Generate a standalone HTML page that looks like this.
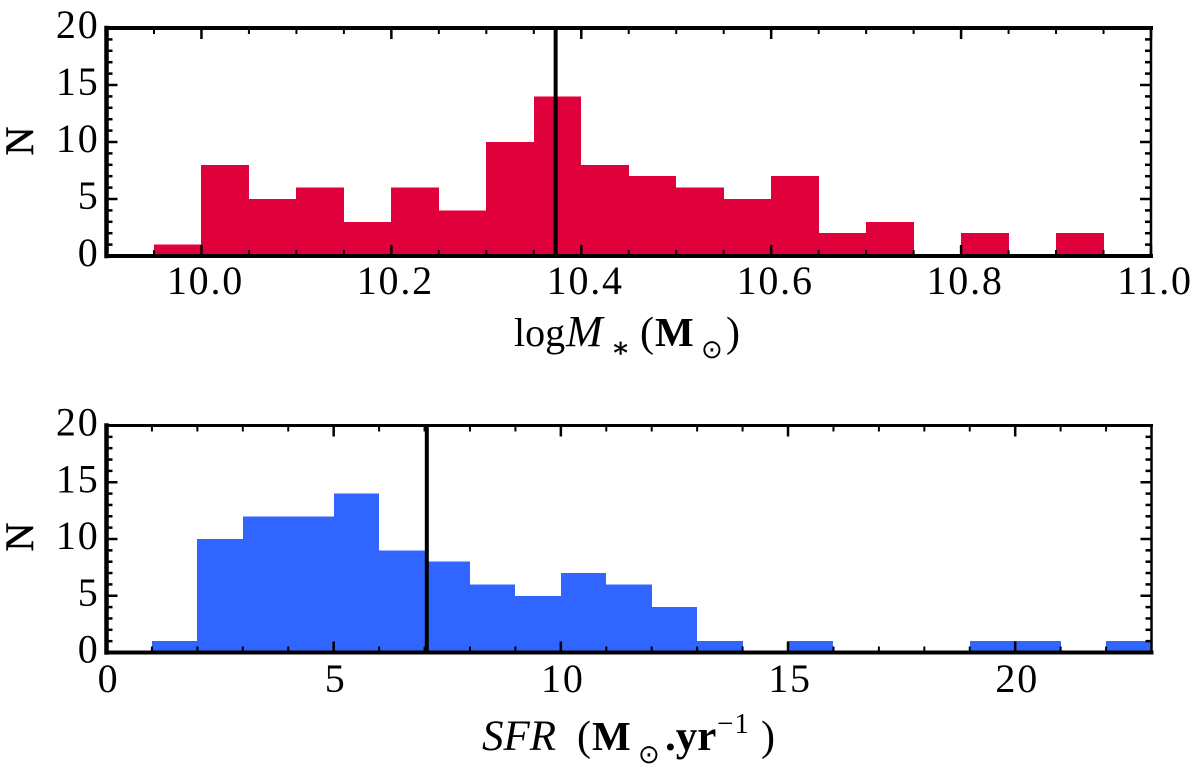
<!DOCTYPE html>
<html>
<head>
<meta charset="utf-8">
<style>
html,body{margin:0;padding:0;background:#fff;width:1200px;height:772px;overflow:hidden}
svg{display:block}
text{font-family:"Liberation Serif","DejaVu Serif",serif;fill:#000}
</style>
</head>
<body>
<svg id="fig" width="1200" height="772" viewBox="0 0 1200 772" xmlns="http://www.w3.org/2000/svg">
  <g id="top-panel"></g>
  <g id="bottom-panel"></g>
  <text transform="translate(33,141) rotate(-90)" font-size="40" text-anchor="middle" stroke="#000" stroke-width="0.5">N</text>
  <text transform="translate(33,537) rotate(-90)" font-size="40" text-anchor="middle" stroke="#000" stroke-width="0.5">N</text>
  <g font-size="40">
    <text x="514" y="346">log</text>
    <text x="566" y="346" font-size="44" font-style="italic">M</text>
    <text x="611" y="357" font-size="28" stroke="#000" stroke-width="0.4">∗</text>
    <text x="640" y="346" font-size="42">(</text>
    <text x="655" y="346" font-weight="bold" font-size="41">M</text>
    <text x="701" y="358" font-size="26" style="font-family:'DejaVu Sans',sans-serif">⊙</text>
    <text x="726" y="346" font-size="42">)</text>
  </g>
  <g font-size="40">
    <text x="482" y="750" font-size="43" font-style="italic">SFR</text>
    <text x="577" y="750" font-size="42">(</text>
    <text x="592" y="750" font-weight="bold" font-size="41">M</text>
    <text x="638" y="763" font-size="26" style="font-family:'DejaVu Sans',sans-serif">⊙</text>
    <text x="665" y="750" font-weight="bold" font-size="43">.yr</text>
    <text x="717" y="733" font-size="29" letter-spacing="1">−1</text>
    <text x="761" y="750" font-size="42">)</text>
  </g>
</svg>
<script>
var massEdgeStart = 9.95;
var massBinWidth = 0.05;
var massCounts = [1,8,5,6,3,6,4,10,14,8,7,6,5,7,2,3,0,2,0,2];
var massMedian = 10.373;
var massTicks = ["10.0","10.2","10.4","10.6","10.8","11.0"];
var sfrEdgeStart = 1;
var sfrBinWidth = 1;
var sfrCounts = [1,10,12,12,14,9,8,6,5,7,6,4,1,0,1,0,0,0,1,1,0,1];
var sfrMedian = 7.05;
var sfrTicks = ["0","5","10","15","20"];
var yTicks = ["0","5","10","15","20"];

var NS = 'http://www.w3.org/2000/svg';
function make(parent, tag, attrs) {
  var el = document.createElementNS(NS, tag);
  for (var k in attrs) el.setAttribute(k, attrs[k]);
  parent.appendChild(el);
  return el;
}
function drawPanel(cfg) {
  var g = document.getElementById(cfg.id);
  var sx = function (v) { return cfg.left + (v - cfg.xMin) / (cfg.xMax - cfg.xMin) * (cfg.right - cfg.left); };
  var sy = function (v) { return cfg.bottom - v / 20 * (cfg.bottom - cfg.top); };

  cfg.counts.forEach(function (n, i) {
    if (n === 0) return;
    var x0 = Math.round(sx(cfg.start + i * cfg.width));
    var x1 = Math.round(sx(cfg.start + (i + 1) * cfg.width));
    var bar = make(g, 'rect', { x: x0, y: sy(n), width: x1 - x0, height: cfg.bottom - sy(n), fill: cfg.color, 'shape-rendering': 'crispEdges' });
    
    
  });

  var nx = Math.round((cfg.xMax - cfg.xMin) / cfg.minorStep);
  for (var i = 0; i <= nx; i++) {
    var v = cfg.xMin + i * cfg.minorStep;
    var isMajor = Math.abs(v / cfg.majorStep - Math.round(v / cfg.majorStep)) < 1e-6;
    var len = isMajor ? 11 : 6;
    var w = isMajor ? 2.5 : 2;
    var px = sx(v);
    var t1 = make(g, 'line', { x1: px, x2: px, y1: cfg.bottom, y2: cfg.bottom - len, stroke: '#000', 'stroke-width': w });
    
    
    var t2 = make(g, 'line', { x1: px, x2: px, y1: cfg.top, y2: cfg.top + len, stroke: '#000', 'stroke-width': w });
    
    
  }
  for (var j = 0; j <= 20; j++) {
    var ly = j % 5 === 0 ? 11 : 6;
    var py = sy(j);
    var t3 = make(g, 'line', { x1: cfg.left, x2: cfg.left + ly, y1: py, y2: py, stroke: '#000', 'stroke-width': 2.5 });
    
    
    var t4 = make(g, 'line', { x1: cfg.right, x2: cfg.right - ly, y1: py, y2: py, stroke: '#000', 'stroke-width': 2.5 });
    
    
  }

  var med = make(g, 'line', { x1: sx(cfg.median), x2: sx(cfg.median), y1: cfg.top, y2: cfg.bottom, stroke: '#000', 'stroke-width': 4 });
  
  

  var spines = [
    [cfg.left, cfg.top, cfg.right, cfg.top, cfg.topW],
    [cfg.left, cfg.bottom, cfg.right, cfg.bottom, 4],
    [cfg.left, cfg.top, cfg.left, cfg.bottom, 4.5],
    [cfg.right, cfg.top, cfg.right, cfg.bottom, 2.5]
  ];
  spines.forEach(function (s) {
    var sp = make(g, 'line', { x1: s[0], y1: s[1], x2: s[2], y2: s[3], stroke: '#000', 'stroke-width': s[4], 'stroke-linecap': 'square' });
    
    
  });

  cfg.xTicks.forEach(function (lab) {
    var tx = make(g, 'text', { x: sx(parseFloat(lab)) + cfg.labelShift, y: cfg.xLabelY, 'font-size': 40, 'text-anchor': 'middle', 'letter-spacing': 1.8 });
    tx.textContent = lab;
    
    
  });
  yTicks.forEach(function (lab) {
    var ty = make(g, 'text', { x: 99.5, y: sy(parseFloat(lab)) + 10, 'font-size': 40, 'text-anchor': 'end', 'letter-spacing': 1.8 });
    ty.textContent = lab;
    
    
  });
}
drawPanel({ id: 'top-panel', left: 106.5, right: 1151, top: 28, bottom: 256, xMin: 9.9, xMax: 11.0,
  start: massEdgeStart, width: massBinWidth, counts: massCounts, median: massMedian, color: '#e0003c',
  minorStep: 0.05, majorStep: 0.2, xTicks: massTicks, xLabelY: 294, labelShift: 4, topW: 4 });
drawPanel({ id: 'bottom-panel', left: 106.5, right: 1151.5, top: 425.5, bottom: 652.5, xMin: 0, xMax: 23,
  start: sfrEdgeStart, width: sfrBinWidth, counts: sfrCounts, median: sfrMedian, color: '#3066ff',
  minorStep: 1, majorStep: 5, xTicks: sfrTicks, xLabelY: 692, labelShift: 2, topW: 3 });
</script>
</body>
</html>
